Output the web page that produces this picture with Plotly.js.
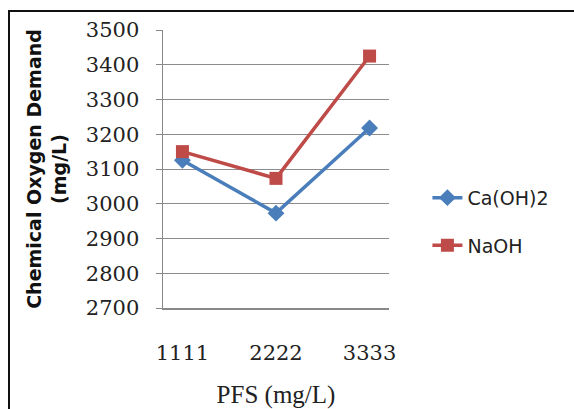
<!DOCTYPE html>
<html>
<head>
<meta charset="utf-8">
<script src="https://cdn.plot.ly/plotly-3.0.1.min.js"></script>
<style>
  html, body { margin: 0; padding: 0; background: #fff; }
  #wrap { position: relative; width: 574px; height: 409px; overflow: hidden; }
  #chart { position: absolute; left: 0; top: 0; width: 574px; height: 409px; }
  #frame { position: absolute; left: 8px; top: 10px; width: 600px; height: 500px;
           border: 2px solid #111; pointer-events: none; }
</style>
</head>
<body>
<div id="wrap">
  <div id="chart"></div>
  <div id="frame"></div>
</div>
<script>
const categories = ["1111", "2222", "3333"];
const caOH2 = [3125, 2973, 3218];
const naOH = [3150, 3073, 3425];
const yTicks = [2700, 2800, 2900, 3000, 3100, 3200, 3300, 3400, 3500];

const traces = [
  {
    x: categories, y: caOH2, name: "Ca(OH)2", type: "scatter", mode: "lines+markers",
    legendgroup: "a",
    line: { color: "#4a7ebb", width: 3.5 },
    marker: { symbol: "diamond", size: 13, color: "#4a7ebb" }
  },
  {
    x: categories, y: naOH, name: "NaOH", type: "scatter", mode: "lines+markers",
    legendgroup: "b",
    line: { color: "#be4b48", width: 3.5 },
    marker: { symbol: "square", size: 13, color: "#be4b48" }
  }
];

const layout = {
  width: 574, height: 409,
  margin: { l: 163, r: 185, t: 30, b: 101 },
  paper_bgcolor: "rgba(0,0,0,0)",
  plot_bgcolor: "#ffffff",
  showlegend: true,
  legend: {
    x: 1.17, y: 0.31, xanchor: "left", yanchor: "middle",
    font: { family: "DejaVu Sans", size: 19, color: "#222" },
    traceorder: "grouped", tracegroupgap: 20
  },
  xaxis: {
    type: "category",
    categoryorder: "array", categoryarray: categories,
    showline: true, linecolor: "#888", linewidth: 1.5,
    showgrid: false, ticks: "",
    ticklabelstandoff: 25,
    tickfont: { family: "DejaVu Serif", size: 21, color: "#222" },
    title: { text: "PFS (mg/L)", font: { family: "Liberation Serif", size: 25, color: "#222" }, standoff: 24 }
  },
  yaxis: {
    range: [2700, 3500],
    tickvals: yTicks, ticktext: yTicks.map(String),
    showline: true, linecolor: "#888", linewidth: 1.5,
    showgrid: true, gridcolor: "#8c8c8c", gridwidth: 1,
    ticks: "outside", ticklen: 6, tickcolor: "#888",
    ticklabelstandoff: 12,
    zeroline: false,
    tickfont: { family: "DejaVu Serif", size: 21, color: "#222" },
    title: { text: "Chemical Oxygen Demand<br>(mg/L)", font: { family: "DejaVu Sans", size: 19, color: "#111", weight: "bold" }, standoff: 14 }
  }
};

Plotly.newPlot("chart", traces, layout, { displayModeBar: false, staticPlot: true });
</script>
</body>
</html>
